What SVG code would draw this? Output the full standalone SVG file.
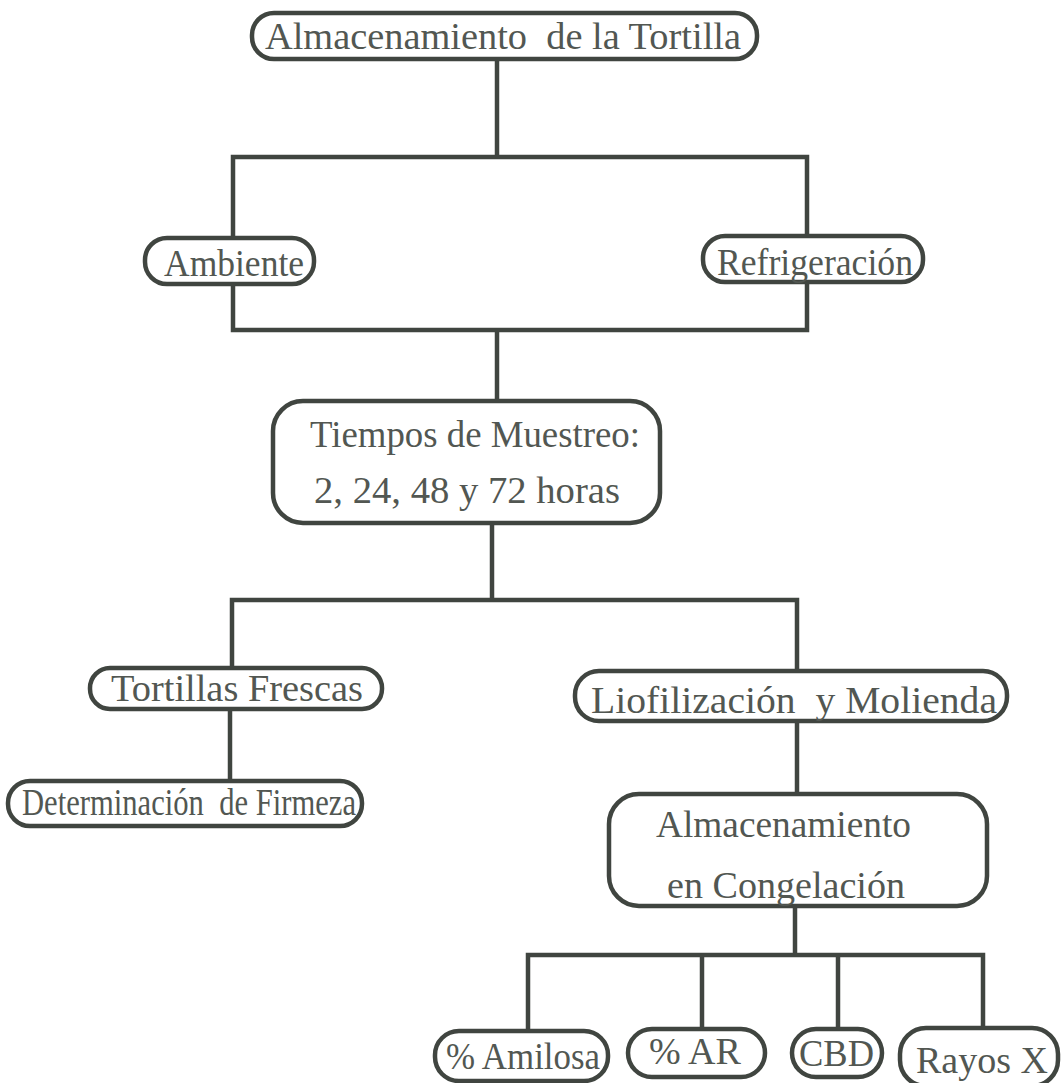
<svg xmlns="http://www.w3.org/2000/svg" width="1063" height="1083" viewBox="0 0 1063 1083">
<style>
.box{fill:#ffffff;stroke:#404540;stroke-width:4.5}
.t{font-family:"Liberation Serif","Times New Roman",serif;font-size:37px;fill:#525752}
.c{fill:none;stroke:#404540;stroke-width:4.5;stroke-linejoin:miter;stroke-linecap:butt}
</style>
<rect width="1063" height="1083" fill="#ffffff"/>
<g id="connectors">
<path class="c" d="M497,59 V157"/>
<path class="c" d="M233,237 V157 H807 V235"/>
<path class="c" d="M233,284 V330 H807 V282"/>
<path class="c" d="M497,330 V401"/>
<path class="c" d="M492,523 V600"/>
<path class="c" d="M232,668 V600 H797 V671"/>
<path class="c" d="M230,709 V781"/>
<path class="c" d="M797,721 V794"/>
<path class="c" d="M795,906 V955"/>
<path class="c" d="M528,1031 V955 H983 V1028"/>
<path class="c" d="M702,955 V1029"/>
<path class="c" d="M838,955 V1029"/>
</g>
<g id="n-top">
<rect class="box" x="252" y="13" width="505" height="46" rx="22"/>
<text class="t" x="265" y="49" textLength="476" lengthAdjust="spacingAndGlyphs" xml:space="preserve">Almacenamiento  de la Tortilla</text>
</g>
<g id="n-ambiente">
<rect class="box" x="145" y="238" width="169" height="46" rx="22"/>
<text class="t" x="164" y="276" textLength="140" lengthAdjust="spacingAndGlyphs">Ambiente</text>
</g>
<g id="n-refrigeracion">
<rect class="box" x="703" y="236" width="220" height="46" rx="22"/>
<text class="t" x="717" y="275" textLength="196" lengthAdjust="spacingAndGlyphs">Refrigeración</text>
</g>
<g id="n-tiempos">
<rect class="box" x="273" y="401" width="387" height="122" rx="30"/>
<text class="t" x="310" y="447" textLength="330" lengthAdjust="spacingAndGlyphs">Tiempos de Muestreo:</text>
<text class="t" x="314" y="503" textLength="306" lengthAdjust="spacingAndGlyphs">2, 24, 48 y 72 horas</text>
</g>
<g id="n-frescas">
<rect class="box" x="90" y="668" width="292" height="41" rx="20"/>
<text class="t" x="111" y="701" textLength="252" lengthAdjust="spacingAndGlyphs">Tortillas Frescas</text>
</g>
<g id="n-firmeza">
<rect class="box" x="8" y="781" width="354" height="45" rx="22"/>
<text class="t" x="22" y="815" textLength="334" lengthAdjust="spacingAndGlyphs" xml:space="preserve">Determinación  de Firmeza</text>
</g>
<g id="n-liofilizacion">
<rect class="box" x="575" y="671" width="432" height="50" rx="24"/>
<text class="t" x="591" y="713" textLength="406" lengthAdjust="spacingAndGlyphs" xml:space="preserve">Liofilización  y Molienda</text>
</g>
<g id="n-congelacion">
<rect class="box" x="609" y="794" width="378" height="112" rx="30"/>
<text class="t" x="656" y="837" textLength="255" lengthAdjust="spacingAndGlyphs">Almacenamiento</text>
<text class="t" x="667" y="898" textLength="238" lengthAdjust="spacingAndGlyphs">en Congelación</text>
</g>
<g id="n-amilosa">
<rect class="box" x="435" y="1031" width="173" height="50" rx="24"/>
<text class="t" x="446" y="1069" textLength="154" lengthAdjust="spacingAndGlyphs">% Amilosa</text>
</g>
<g id="n-ar">
<rect class="box" x="628" y="1029" width="137" height="48" rx="24"/>
<text class="t" x="649" y="1064" textLength="92" lengthAdjust="spacingAndGlyphs">% AR</text>
</g>
<g id="n-cbd">
<rect class="box" x="792" y="1029" width="90" height="48" rx="24"/>
<text class="t" x="799" y="1066" textLength="75" lengthAdjust="spacingAndGlyphs">CBD</text>
</g>
<g id="n-rayos">
<rect class="box" x="900" y="1028" width="158" height="58" rx="26"/>
<text class="t" x="916" y="1073" textLength="132" lengthAdjust="spacingAndGlyphs">Rayos X</text>
</g>
</svg>
